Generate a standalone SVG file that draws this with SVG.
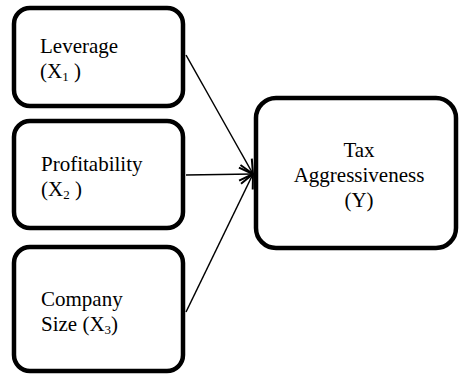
<svg xmlns="http://www.w3.org/2000/svg" width="461" height="376" viewBox="0 0 461 376">
<style>
.box{fill:#fff;stroke:#000;stroke-width:4.5}
.t{font-family:"Liberation Serif","Times New Roman",serif;font-size:21px;fill:#000}
.sub{font-size:13px}
.c{stroke:#000;stroke-width:1.5;fill:none}
</style>
<defs>
<marker id="ah" viewBox="0 0 16 16" refX="15" refY="8" markerWidth="16" markerHeight="16" markerUnits="userSpaceOnUse" orient="auto">
<path d="M1,1.5 L15,8 L1,14.5" fill="none" stroke="#000" stroke-width="2"/>
</marker>
</defs>
<g id="connectors">
<line class="c" x1="186" y1="55" x2="253" y2="174" marker-end="url(#ah)"/>
<line class="c" x1="186" y1="175" x2="253" y2="174" marker-end="url(#ah)"/>
<line class="c" x1="186" y1="312" x2="253" y2="174" marker-end="url(#ah)"/>
</g>
<g id="leverage">
<rect class="box" x="14" y="8" width="169" height="98" rx="16"/>
<text class="t" x="40" y="53">Leverage</text>
<text class="t" x="40" y="78">(X<tspan class="sub" dy="3">1</tspan><tspan dy="-3"> )</tspan></text>
</g>
<g id="profitability">
<rect class="box" x="14" y="121" width="169" height="107" rx="16"/>
<text class="t" x="41" y="171">Profitability</text>
<text class="t" x="41" y="196">(X<tspan class="sub" dy="3">2</tspan><tspan dy="-3"> )</tspan></text>
</g>
<g id="size">
<rect class="box" x="14" y="247" width="169" height="124" rx="16"/>
<text class="t" x="41" y="306">Company</text>
<text class="t" x="41" y="331">Size (X<tspan class="sub" dy="3">3</tspan><tspan dy="-3">)</tspan></text>
</g>
<g id="tax">
<rect class="box" x="256" y="98" width="200" height="150" rx="20"/>
<text class="t" x="359" y="157" text-anchor="middle">Tax</text>
<text class="t" x="359" y="182" text-anchor="middle">Aggressiveness</text>
<text class="t" x="359" y="207" text-anchor="middle">(Y)</text>
</g>
</svg>
